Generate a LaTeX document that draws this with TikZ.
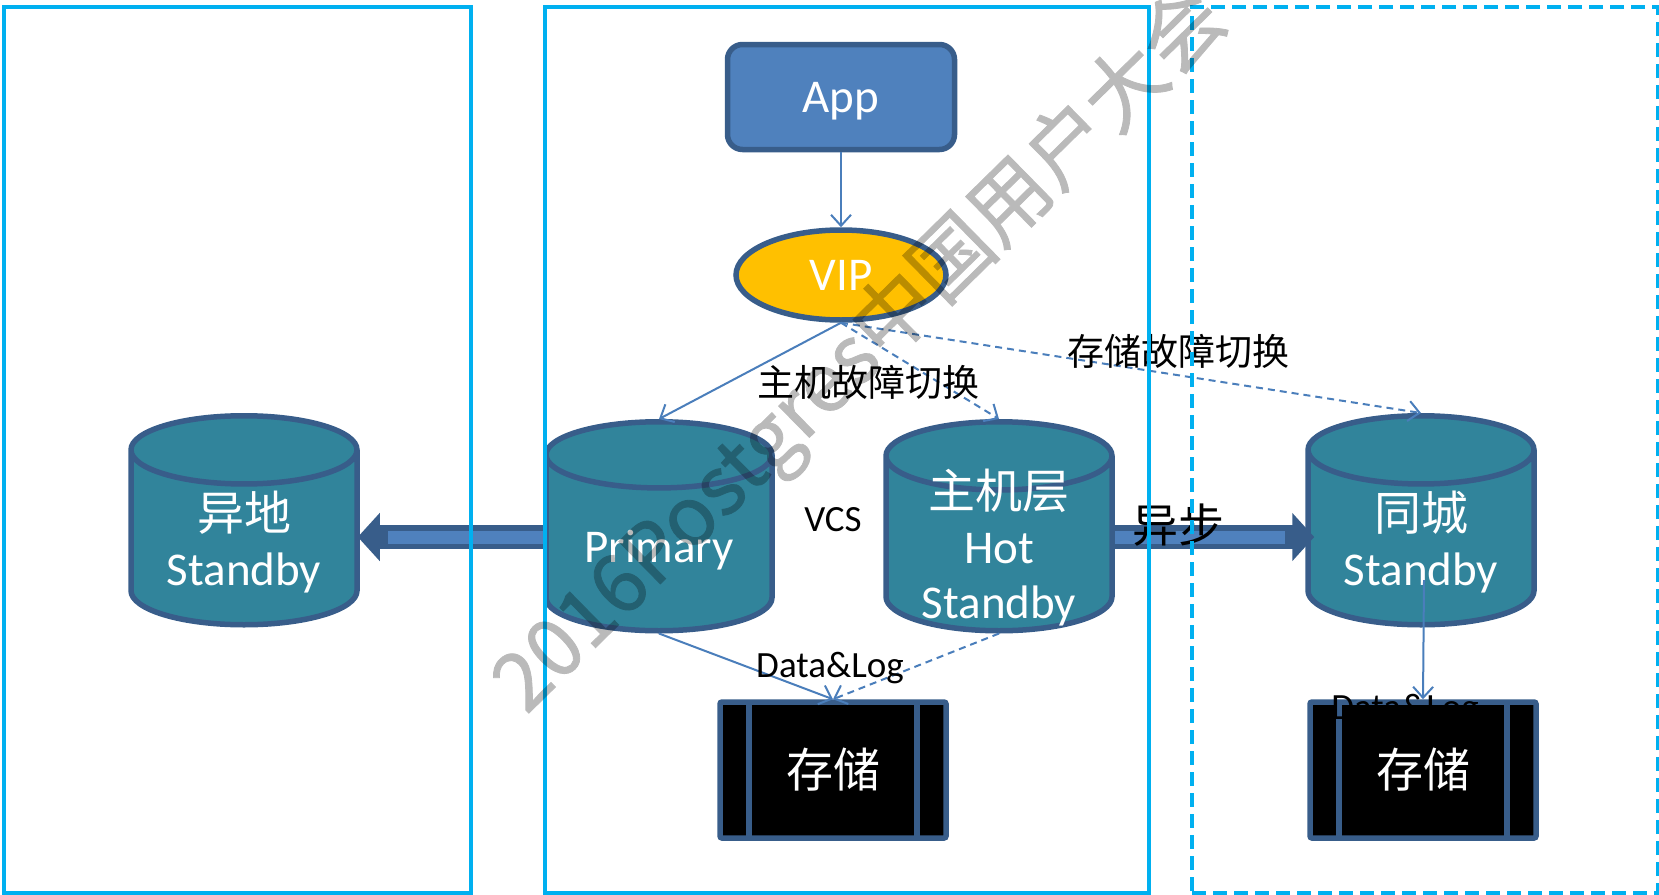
\documentclass[tikz,border=0pt]{standalone}
\usepackage{fontspec}
\setmainfont{Carlito}
\newfontfamily\cjk{Noto Sans CJK SC}
\newfontfamily\markfont[FakeBold=1]{Noto Sans CJK SC}
\usepackage{tikz}
\usetikzlibrary{arrows.meta}
\usetikzlibrary{calc}
\usetikzlibrary{shapes.geometric}
\definecolor{lineblue}{HTML}{385D8A}
\definecolor{linkblue}{HTML}{4A7EBB}
\definecolor{appblue}{HTML}{4F81BD}
\definecolor{dbteal}{HTML}{31849B}
\definecolor{vipgold}{HTML}{FFC000}
\definecolor{framecyan}{HTML}{00B0F0}
\newcommand{\dbtext}[1]{\smash{\raisebox{-14pt}{\begin{tabular}{c}#1\end{tabular}}}}
\tikzset{
	bigtext/.style={text=white, font=\fontsize{47}{55}\selectfont, align=center},
	labeltext/.style={text=black, font=\fontsize{37}{44}\selectfont, inner sep=0pt},
	appbox/.style={bigtext, draw=lineblue, line width=5.5pt, fill=appblue, rounded corners=15pt, minimum width=227pt, minimum height=105pt, text depth=0pt},
	vipnode/.style={bigtext, ellipse, draw=lineblue, line width=5.5pt, fill=vipgold, minimum width=210pt, minimum height=90pt, inner sep=0pt},
	dbnode/.style={bigtext, anchor=north, cylinder, shape border rotate=90, aspect=.41, draw=lineblue, line width=5.5pt, fill=dbteal, minimum width=226pt, minimum height=209pt, inner sep=0pt},
	storebox/.style={bigtext, draw=lineblue, line width=5.5pt, fill=black, rounded corners=2pt, minimum width=226pt, minimum height=136pt,
		path picture={
			\draw[lineblue, line width=5.5pt] ($(path picture bounding box.north west)+(29,0)$) -- ($(path picture bounding box.south west)+(29,0)$);
			\draw[lineblue, line width=5.5pt] ($(path picture bounding box.north east)+(-29,0)$) -- ($(path picture bounding box.south east)+(-29,0)$);
		}},
	frame/.style={draw=framecyan, line width=4pt},
	link/.style={draw=linkblue, line width=2pt, -{Straight Barb[length=11pt,width=20pt]}},
	dashlink/.style={link, dash pattern=on 7pt off 5pt},
	fatout/.style={draw=lineblue, line width=24pt, -{Triangle[length=22pt,width=47pt]}},
	fatin/.style={draw=appblue, line width=13pt},
}
\begin{document}
\begin{tikzpicture}[x=1pt,y=-1pt]
		\useasboundingbox (0,0) rectangle (1659,894);
		\node[appbox] (app) at (841,97) {App};
		\node[vipnode] (vip) at (841,275) {VIP};
		\node[dbnode] (remote) at (244,413) {\dbtext{{\cjk 异地}\\Standby}};
		\node[dbnode] (primary) at (659,419) {\dbtext{Primary}};
		\node[dbnode] (hot) at (999,419) {\dbtext{{\cjk 主机层}\\Hot\\Standby}};
		\node[dbnode] (city) at (1421,413) {\dbtext{{\cjk 同城}\\Standby}};
		\node[storebox] (store) at (833,770) {\cjk 存储};
		\node[storebox] (citystore) at (1423,770) {\cjk 存储};
		\coordinate (cityout) at (1424,580);
		\coordinate (fatrow) at (0,537);

		\draw[fatout] (primary.west |- fatrow) -- ($(remote.east |- fatrow)+(-2,0)$);
		\draw[fatin] (primary.west |- fatrow) -- ($(remote.east |- fatrow)+(28,0)$);
		\draw[fatout] (hot.east |- fatrow) -- ($(city.west |- fatrow)+(9,0)$);
		\draw[fatin] (hot.east |- fatrow) -- ($(city.west |- fatrow)+(-20,0)$);

		\path
		(app.south) edge [link] (vip.north)
		(vip.south) edge [link] (primary.north)
		edge [dashlink] (hot.north)
		edge [dashlink] (city.north)
		(primary.south) edge [link] (store.north)
		(hot.south) edge [dashlink] (store.north)
		(cityout) edge [link] (citystore.north)
		;

		\node[labeltext] (vcs) at (833,520) {VCS};
		\node[labeltext] (hostlabel) at (868,382) {\cjk 主机故障切换};
		\node[labeltext] (storelabel) at (1178,351) {\cjk 存储故障切换};
		\node[labeltext] (datalabel) at (830,668) {Data\&Log};
		\node[labeltext] (citydatalabel) at (1405,710) {Data\&Log};
		\node[labeltext, font=\fontsize{46}{50}\selectfont] (asynclabel) at (1178,525) {\cjk 异步};

		\node[frame, minimum width=467pt, minimum height=886pt, anchor=north west] (leftframe) at (2,5) {};
		\node[frame, minimum width=604pt, minimum height=886pt, anchor=north west] (midframe) at (543,5) {};
		\node[frame, dash pattern=on 14pt off 7pt, minimum width=466pt, minimum height=886pt, anchor=north west] (rightframe) at (1190,5) {};

		\begin{scope}[transparency group, opacity=.27]
		\node[text=black, rotate=44.5, font=\fontsize{81}{90}\selectfont\markfont] (watermark) at (862,352) {2016Postgres中国用户大会};
		\end{scope}
		\end{tikzpicture}
\end{document}
